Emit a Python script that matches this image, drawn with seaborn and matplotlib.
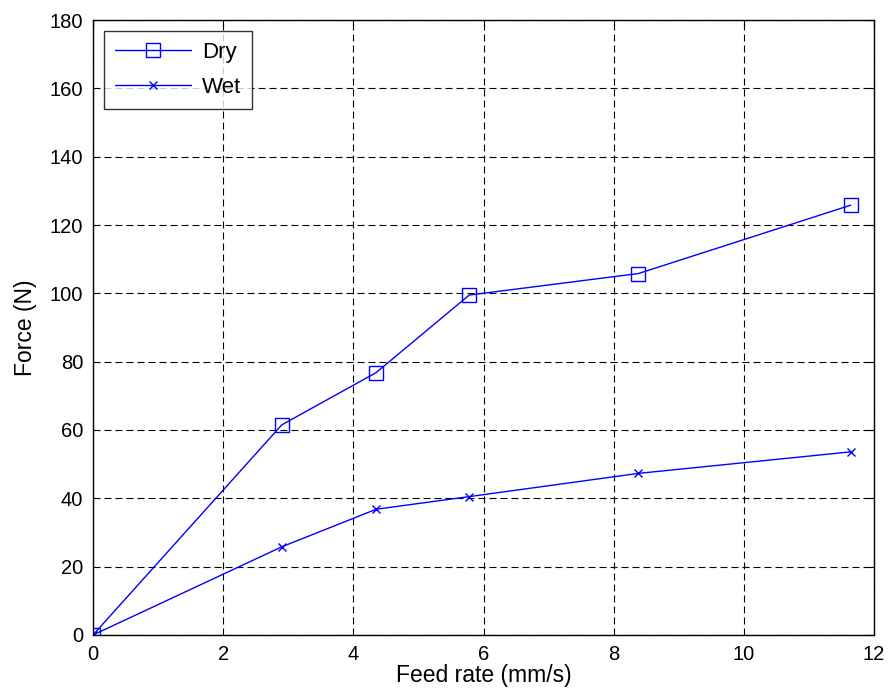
import numpy as np
import pandas as pd
import seaborn as sns
import matplotlib.pyplot as plt

# Values
feed_rate = [0, 2.90, 4.35, 5.78, 8.38, 11.64]
force_dry = [0, 61.5, 76.8, 99.5, 105.8, 125.8]
force_wet = [0, 25.8, 36.8, 40.5, 47.3, 53.6]

sns.set_style("white")
plt.rcParams['font.family'] = ['Liberation Sans', 'DejaVu Sans']
plt.rcParams['text.color'] = 'black'
plt.rcParams['axes.labelcolor'] = 'black'
plt.rcParams['xtick.color'] = 'black'
plt.rcParams['ytick.color'] = 'black'

fig = plt.figure(figsize=(8.91, 6.98), dpi=100)
ax = fig.add_axes([0.1044, 0.0903, 0.8766, 0.881])

sns.lineplot(x=feed_rate, y=force_dry, ax=ax, color="blue", lw=1, marker="s",
             markersize=10.5, markerfacecolor="none", markeredgecolor="blue",
             markeredgewidth=1, label="Dry")
sns.lineplot(x=feed_rate, y=force_wet, ax=ax, color="blue", lw=1, marker="x",
             markersize=5.5, markeredgecolor="blue", markeredgewidth=1, label="Wet")

ax.set_xlim(0, 12)
ax.set_ylim(0, 180)
ax.set_xticks(np.arange(0, 13, 2))
ax.set_yticks(np.arange(0, 181, 20))
ax.grid(True, color="black", linestyle=(0, (6.3, 3.6)), linewidth=0.8)
ax.set_axisbelow(True)
ax.tick_params(direction="in", length=5, top=True, right=True, labelsize=14.5, pad=7)
for s in ax.spines.values():
    s.set_color("black")
    s.set_linewidth(1)

ax.set_xlabel("Feed rate (mm/s)", fontsize=16.5, labelpad=0)
ax.set_ylabel("Force (N)", fontsize=16.5, labelpad=9)

leg = ax.legend(loc="upper left", fontsize=16, frameon=True, fancybox=False,
                edgecolor="black", borderaxespad=0.5, handlelength=3.4,
                labelspacing=0.6, borderpad=0.5, handletextpad=0.5)
leg.get_frame().set_linewidth(1)

fig.savefig("out.png", dpi=100)
